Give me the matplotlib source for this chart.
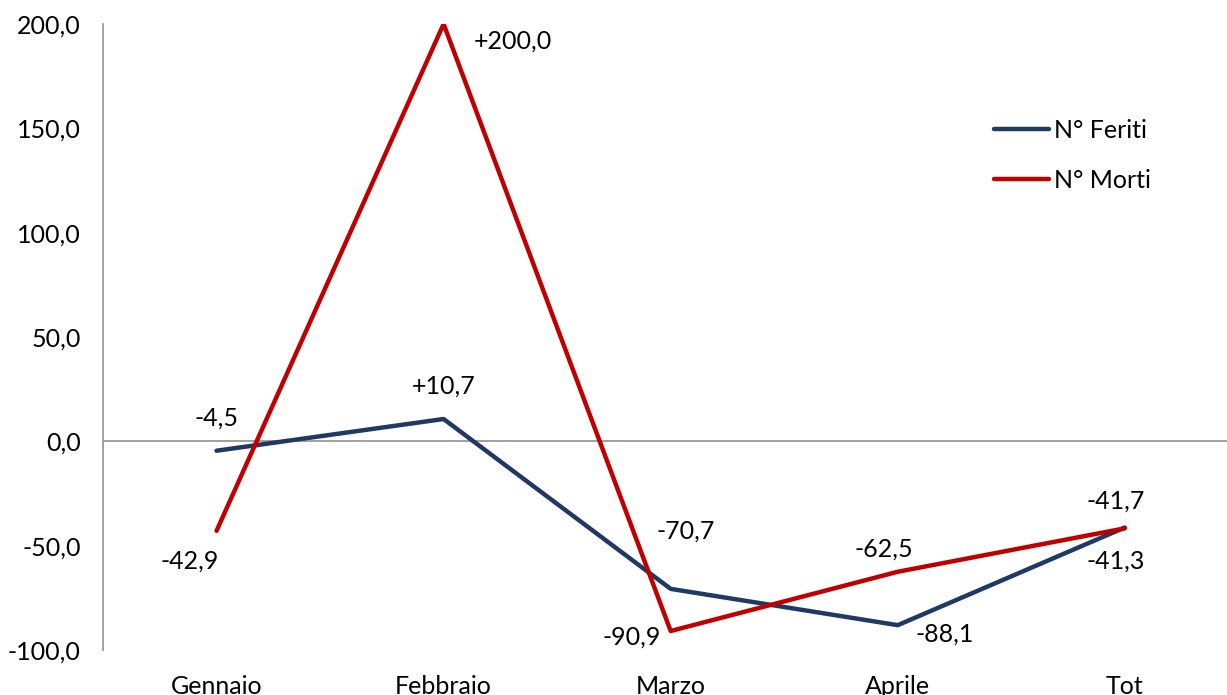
import matplotlib.pyplot as plt
import numpy as np

plt.rcParams['font.family'] = ['Lato', 'DejaVu Sans']

mesi = ['Gennaio', 'Febbraio', 'Marzo', 'Aprile', 'Tot']
feriti = [-4.5, 10.7, -70.7, -88.1, -41.3]
morti = [-42.9, 200.0, -90.9, -62.5, -41.7]

# spostamenti delle etichette (pixel) rispetto al punto
off_feriti = [(0, 33), (0, 33), (15, 58), (47, -9), (-9, -34)]
off_morti = [(-27, -30), (69, -17), (-39, -6), (-14, 23), (-9, 27)]

blu = '#1F3864'
rosso = '#C00000'
fs = 18

fig = plt.figure(figsize=(12.27, 6.95), dpi=100)
ax = fig.add_axes([103/1227, 1-650/695, 1-103/1227, (650-24)/695])

x = np.arange(len(mesi))
ax.plot(x, feriti, color=blu, lw=3.2, label='N° Feriti', solid_capstyle='round', zorder=3)
ax.plot(x, morti, color=rosso, lw=3.2, label='N° Morti', solid_capstyle='round', zorder=3)

for xi, v, o in zip(x, feriti, off_feriti):
    ax.annotate(('+' if v > 0 else '') + f'{v:.1f}'.replace('.', ','), (xi, v),
                xytext=o, textcoords='offset pixels', ha='center', va='center', fontsize=fs)
for xi, v, o in zip(x, morti, off_morti):
    ax.annotate(('+' if v > 0 else '') + f'{v:.1f}'.replace('.', ','), (xi, v),
                xytext=o, textcoords='offset pixels', ha='center', va='center', fontsize=fs)

ax.axhline(0, color='#999999', lw=1.3, zorder=1)
ax.set_ylim(-100, 200)
ax.set_xlim(-0.5, 4.45)
ax.set_yticks([-100, -50, 0, 50, 100, 150, 200])
ax.set_yticklabels([f'{t:.1f}'.replace('.', ',') for t in [-100, -50, 0, 50, 100, 150, 200]])
ax.set_xticks(x)
ax.set_xticklabels(mesi)
ax.tick_params(axis='both', length=0, labelsize=fs)
ax.tick_params(axis='y', pad=16)
ax.tick_params(axis='x', pad=18)

for s in ['top', 'right', 'bottom']:
    ax.spines[s].set_visible(False)
ax.spines['left'].set_color('#999999')
ax.spines['left'].set_linewidth(1.3)

ax.legend(loc='upper left', bbox_to_anchor=(971/1227, 1-96/695), bbox_transform=fig.transFigure,
          frameon=False, fontsize=fs, handlelength=2.2, handletextpad=0.2, labelspacing=1.1)

plt.savefig('out.png', dpi=100)
